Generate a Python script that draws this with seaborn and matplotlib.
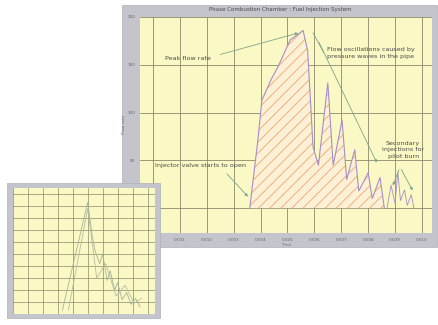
import numpy as np
import pandas as pd
import matplotlib
matplotlib.use("Agg")
import matplotlib.pyplot as plt
from matplotlib.patches import Rectangle
import seaborn as sns

# ---- data ----
# main injection pulse (big chart)
main_x = [3.6, 3.65, 3.9, 4.05, 4.4, 4.65, 5.1, 5.4, 5.58, 5.75, 5.95, 6.15, 6.5, 6.7,
          7.03, 7.2, 7.5, 7.65, 8.0, 8.15, 8.44, 8.6]
main_y = [0, 12, 71, 113, 135, 148, 176, 182, 186, 165, 64, 45, 131, 45,
          92, 30, 61, 18, 37, 10, 32, 0]
# secondary (pilot) spikes
sec_x = [8.7, 8.85, 9.0, 9.1, 9.2, 9.35, 9.45, 9.6, 9.7]
sec_y = [0, 24, 5, 38, 8, 19, 3, 14, 0]

x_ticks = [0, 1, 2, 3, 4, 5, 6, 7, 8, 9, 10]
x_tick_labels = ["0.000", "0.001", "0.002", "0.003", "0.004", "0.005",
                 "0.006", "0.007", "0.008", "0.009", "0.010"]
y_ticks = [0, 50, 100, 150, 200]
y_tick_labels = ["0", "50", "100", "150", "200"]

# small inset chart
small_a_x = [3.3, 5.0, 5.3, 5.5, 5.8, 6.0, 6.3, 6.5, 6.8, 7.0, 7.3, 7.6, 7.9, 8.2, 8.5]
small_a_y = [0.3, 9.3, 6.5, 5.2, 4.2, 5.0, 2.8, 3.6, 2.0, 2.6, 1.2, 1.8, 0.8, 1.3, 0.6]
small_b_x = [3.7, 5.0, 5.6, 6.2, 6.9, 7.5, 8.1, 8.6]
small_b_y = [0.3, 8.8, 3.0, 4.2, 1.5, 2.4, 0.9, 1.3]

title = "Phase Combustion Chamber : Fuel Injection System"

sns.set_style("white")
plt.rcParams['font.family'] = ['DejaVu Sans']
plt.rcParams['hatch.linewidth'] = 0.6
plt.rcParams['hatch.color'] = '#f0a868'

frame_c = '#c4c4cc'
yellow = '#faf8c4'
grid_c = '#8c8a6c'
curve_c = '#a88ec8'
note_c = '#7fa58c'
text_c = '#4a4a4a'

fig = plt.figure(figsize=(4.39, 3.25), dpi=100)
fig.patch.set_facecolor('white')

# ---- big chart ----
fig.patches.append(Rectangle((0.2779, 0.24), 0.7175, 0.7446, transform=fig.transFigure,
                             facecolor=frame_c, edgecolor='#b0b0b8', lw=0.5, zorder=0))
ax = fig.add_axes([0.3189, 0.2831, 0.6651, 0.6646], zorder=1)
ax.set_facecolor(yellow)

df_main = pd.DataFrame({'t': main_x, 'q': main_y})
df_sec = pd.DataFrame({'t': sec_x, 'q': sec_y})
ax.fill_between(df_main['t'], df_main['q'], 0, facecolor='#fcf0d6', edgecolor='#f0a868',
                hatch='///', linewidth=0, zorder=2)
sns.lineplot(data=df_main, x='t', y='q', sort=False, color=curve_c, lw=0.8, ax=ax, zorder=3)
sns.lineplot(data=df_sec, x='t', y='q', sort=False, color=curve_c, lw=0.6, ax=ax, zorder=3)

ax.set_xlim(-0.48, 10.37)
ax.set_ylim(-26, 200)
ax.set_xticks(x_ticks)
ax.set_xticklabels(x_tick_labels)
ax.set_yticks(y_ticks)
ax.set_yticklabels(y_tick_labels)
ax.tick_params(labelsize=3, colors='#666666', length=2.5, width=0.5, pad=1)
ax.grid(True, color=grid_c, lw=0.6)
ax.set_axisbelow(True)
for s in ax.spines.values():
    s.set_visible(False)
ax.set_xlabel("Time", fontsize=3, color='#6a6a6a', labelpad=0.5)
ax.set_ylabel("Flow rate", fontsize=3, color='#6a6a6a', labelpad=1)

fig.text(0.638, 0.972, title, ha='center', va='center', fontsize=4, color=text_c)

# annotations
fs = 4.6
ax.text(1.3, 157, "Peak flow rate", fontsize=fs, color=text_c, ha='center', va='center')
ax.annotate("", xy=(5.5, 184), xytext=(2.4, 160),
            arrowprops=dict(arrowstyle='-|>', color=note_c, lw=0.6, mutation_scale=4))
ax.text(8.1, 162, "Flow oscillations caused by\npressure waves in the pipe", fontsize=fs,
        color=text_c, ha='center', va='center', linespacing=1.5)
ax.annotate("", xy=(5.9, 186), xytext=(6.4, 160),
            arrowprops=dict(arrowstyle='-', color=note_c, lw=0.6))
ax.annotate("", xy=(8.36, 45), xytext=(6.13, 176),
            arrowprops=dict(arrowstyle='-|>', color=note_c, lw=0.6, mutation_scale=4))
ax.text(1.78, 45, "Injector valve starts to open", fontsize=fs, color=text_c,
        ha='center', va='center')
ax.annotate("", xy=(3.6, 10), xytext=(2.68, 38),
            arrowprops=dict(arrowstyle='-|>', color=note_c, lw=0.6, mutation_scale=4))
ax.text(9.3, 61, "Secondary\ninjections for\npilot burn", fontsize=fs, color=text_c,
        ha='center', va='center', linespacing=1.4)
ax.annotate("", xy=(8.88, 21), xytext=(9.18, 43),
            arrowprops=dict(arrowstyle='-|>', color=note_c, lw=0.6, mutation_scale=4))
ax.annotate("", xy=(9.7, 16), xytext=(9.18, 43),
            arrowprops=dict(arrowstyle='-|>', color=note_c, lw=0.6, mutation_scale=4))

# ---- small inset chart ----
fig.patches.append(Rectangle((0.0159, 0.0215), 0.3485, 0.4154, transform=fig.transFigure,
                             facecolor=frame_c, edgecolor='#b0b0b8', lw=0.5, zorder=2))
ax2 = fig.add_axes([0.0296, 0.0338, 0.3235, 0.3877], zorder=3)
ax2.set_facecolor(yellow)
df_a = pd.DataFrame({'t': small_a_x, 'q': small_a_y})
df_b = pd.DataFrame({'t': small_b_x, 'q': small_b_y})
sns.lineplot(data=df_a, x='t', y='q', sort=False, color='#a3b594', lw=0.6, ax=ax2)
sns.lineplot(data=df_b, x='t', y='q', sort=False, color='#b5bca2', lw=0.6, ax=ax2)
ax2.set_xlim(0, 9.5)
ax2.set_ylim(0, 10.5)
ax2.set_xticks(range(0, 10))
ax2.set_yticks(range(0, 11))
ax2.set_xticklabels([])
ax2.set_yticklabels([])
ax2.tick_params(length=0)
ax2.grid(True, color=grid_c, lw=0.5)
ax2.set_axisbelow(True)
ax2.set_xlabel("")
ax2.set_ylabel("")
for s in ax2.spines.values():
    s.set_visible(False)

fig.savefig("out.png", dpi=100)
